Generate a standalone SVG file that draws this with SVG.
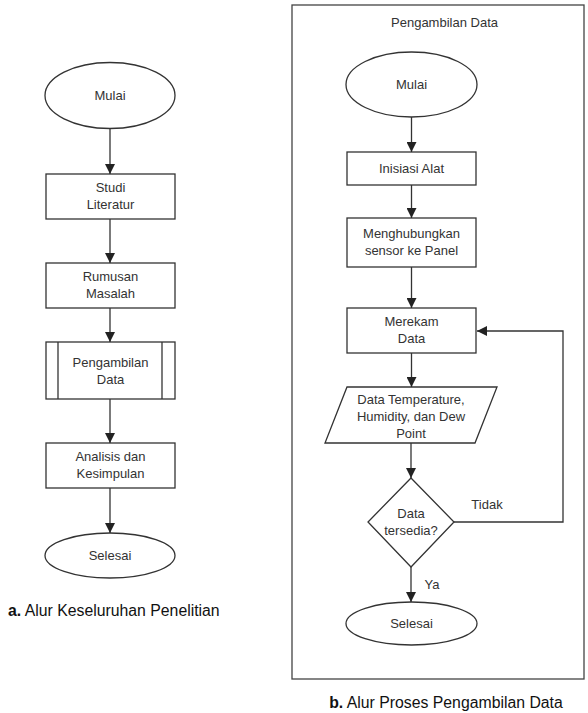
<svg xmlns="http://www.w3.org/2000/svg" width="588" height="713" viewBox="0 0 588 713">
<defs>
<style>
.s{fill:#fff;stroke:#333;stroke-width:1.3}
.t{font-family:"Liberation Sans",Arial,sans-serif;font-size:13px;fill:#333;text-anchor:middle}
.c{fill:none;stroke:#333;stroke-width:1.3}
.cap{font-family:"Liberation Sans",Arial,sans-serif;font-size:15.8px;fill:#111}
</style>
<marker id="ah" viewBox="0 0 10 10" refX="10" refY="5" markerWidth="10" markerHeight="10" markerUnits="userSpaceOnUse" orient="auto">
<path d="M0,0 L10,5 L0,10 Z" fill="#222"/>
</marker>
</defs>
<rect width="588" height="713" fill="#fff"/>

<!-- Left flowchart -->
<g id="a-mulai"><ellipse class="s" cx="110" cy="95.5" rx="65" ry="33"/><text class="t" x="110" y="100">Mulai</text></g>
<g id="a-studi"><rect class="s" x="46" y="174" width="129" height="45"/><text class="t" x="110.5" y="192">Studi</text><text class="t" x="110.5" y="209">Literatur</text></g>
<g id="a-rumusan"><rect class="s" x="46" y="263" width="129" height="45"/><text class="t" x="110.5" y="281">Rumusan</text><text class="t" x="110.5" y="298">Masalah</text></g>
<g id="a-pengambilan"><rect class="s" x="46" y="342" width="129" height="57"/><line class="c" x1="58" y1="342" x2="58" y2="399"/><line class="c" x1="162" y1="342" x2="162" y2="399"/><text class="t" x="110.5" y="367">Pengambilan</text><text class="t" x="110.5" y="384">Data</text></g>
<g id="a-analisis"><rect class="s" x="46" y="443" width="129" height="45"/><text class="t" x="110.5" y="461">Analisis dan</text><text class="t" x="110.5" y="478">Kesimpulan</text></g>
<g id="a-selesai"><ellipse class="s" cx="110" cy="555.5" rx="65" ry="22.5"/><text class="t" x="110" y="560">Selesai</text></g>
<text class="cap" x="8" y="616"><tspan font-weight="bold">a.</tspan> Alur Keseluruhan Penelitian</text>

<!-- Right flowchart -->
<g id="b-frame"><rect x="292" y="5" width="292" height="674" fill="none" stroke="#444" stroke-width="1.3"/><text class="t" x="444.5" y="27">Pengambilan Data</text></g>
<g id="b-mulai"><ellipse class="s" cx="411.5" cy="84.5" rx="65.5" ry="32.5"/><text class="t" x="411.5" y="89">Mulai</text></g>
<g id="b-inisiasi"><rect class="s" x="347" y="152" width="129" height="33"/><text class="t" x="411.5" y="173">Inisiasi Alat</text></g>
<g id="b-menghubungkan"><rect class="s" x="347" y="218" width="129" height="49"/><text class="t" x="411.5" y="238">Menghubungkan</text><text class="t" x="411.5" y="255">sensor ke Panel</text></g>
<g id="b-merekam"><rect class="s" x="347" y="308" width="129" height="45"/><text class="t" x="411.5" y="326">Merekam</text><text class="t" x="411.5" y="343">Data</text></g>
<g id="b-data"><polygon class="s" points="347,387 497,387 475,443 325,443"/><text class="t" x="411" y="404">Data Temperature,</text><text class="t" x="411" y="421">Humidity, dan Dew</text><text class="t" x="411" y="438">Point</text></g>
<g id="b-decision"><polygon class="s" points="411,478 454,522 411,567 368,522"/><text class="t" x="411" y="518">Data</text><text class="t" x="411" y="535">tersedia?</text></g>
<g id="b-selesai"><ellipse class="s" cx="411.5" cy="623.5" rx="65.5" ry="21.5"/><text class="t" x="411.5" y="628">Selesai</text></g>
<text class="cap" x="446" y="708" text-anchor="middle"><tspan font-weight="bold">b.</tspan> Alur Proses Pengambilan Data</text>

<!-- Connectors -->
<g id="connectors">
<line class="c" x1="110" y1="128.5" x2="110" y2="174" marker-end="url(#ah)"/>
<line class="c" x1="110" y1="219" x2="110" y2="263" marker-end="url(#ah)"/>
<line class="c" x1="110" y1="308" x2="110" y2="342" marker-end="url(#ah)"/>
<line class="c" x1="110" y1="399" x2="110" y2="443" marker-end="url(#ah)"/>
<line class="c" x1="110" y1="488" x2="110" y2="533" marker-end="url(#ah)"/>

<line class="c" x1="411.5" y1="117" x2="411.5" y2="152" marker-end="url(#ah)"/>
<line class="c" x1="411.5" y1="185" x2="411.5" y2="218" marker-end="url(#ah)"/>
<line class="c" x1="411.5" y1="267" x2="411.5" y2="308" marker-end="url(#ah)"/>
<line class="c" x1="411.5" y1="353" x2="411.5" y2="387" marker-end="url(#ah)"/>
<line class="c" x1="411" y1="443" x2="411" y2="478" marker-end="url(#ah)"/>
<line class="c" x1="411" y1="567" x2="411" y2="602" marker-end="url(#ah)"/>
<polyline class="c" points="454,522 563,522 563,331 477,331" marker-end="url(#ah)"/>
<text class="t" x="487" y="509">Tidak</text>
<text class="t" x="432" y="589">Ya</text>
</g>
</svg>
